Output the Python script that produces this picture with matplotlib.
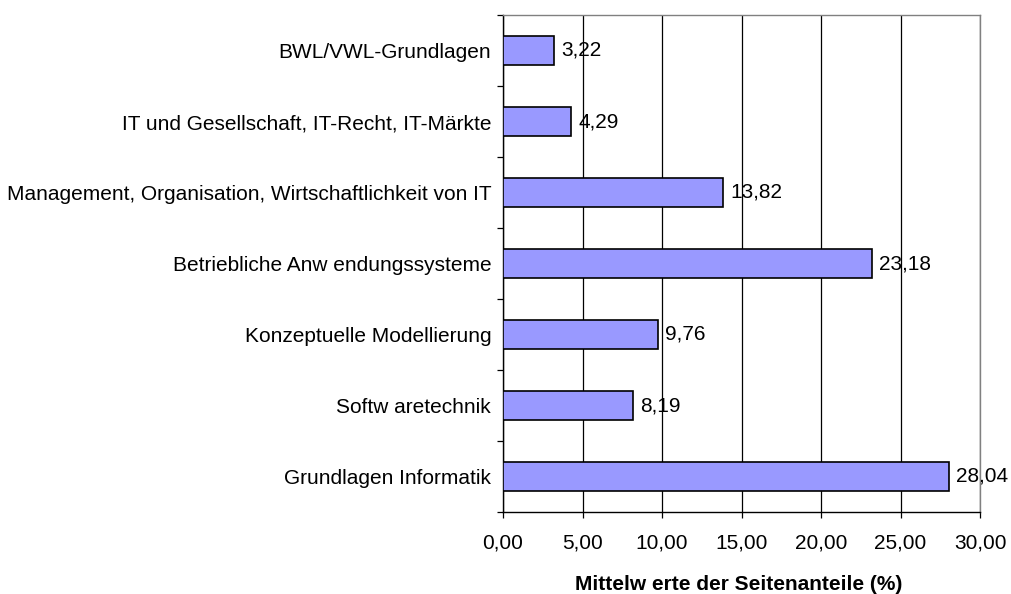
import matplotlib
matplotlib.use("Agg")
import matplotlib.pyplot as plt

categories = [
    "BWL/VWL-Grundlagen",
    "IT und Gesellschaft, IT-Recht, IT-Märkte",
    "Management, Organisation, Wirtschaftlichkeit von IT",
    "Betriebliche Anw endungssysteme",
    "Konzeptuelle Modellierung",
    "Softw aretechnik",
    "Grundlagen Informatik",
]
values = [3.22, 4.29, 13.82, 23.18, 9.76, 8.19, 28.04]
xticks = [0, 5, 10, 15, 20, 25, 30]
xlabel = "Mittelw erte der Seitenanteile (%)"

plt.rcParams['font.family'] = ['Liberation Sans', 'DejaVu Sans']
FS = 15

fig = plt.figure(figsize=(10.11, 5.94), dpi=100)
ax = fig.add_axes([503/1011, 1 - 512/594, (980 - 503)/1011, (512 - 15)/594])

n = len(categories)
ypos = list(range(n))
ax.barh(ypos, values, height=0.42, color="#9999FF", edgecolor="black", linewidth=1.2, zorder=3)
ax.set_ylim(n - 0.5, -0.5)
ax.set_xlim(0, 30)

for y, v in zip(ypos, values):
    ax.text(v + 0.45, y, f"{v:.2f}".replace(".", ","), va="center", ha="left", fontsize=FS, zorder=4)

ax.set_xticks(xticks)
ax.set_xticklabels([f"{t:.2f}".replace(".", ",") for t in xticks], fontsize=FS)
ax.xaxis.grid(True, color="black", linewidth=0.9, zorder=0)
ax.set_axisbelow(True)

ax.set_yticks([i - 0.5 for i in range(n + 1)])
ax.set_yticklabels([])
ax.set_yticks(ypos, minor=True)
ax.set_yticklabels(categories, minor=True, fontsize=FS)
ax.tick_params(axis="y", which="minor", length=0, pad=8.5)
ax.tick_params(axis="y", which="major", length=4.5, direction="out", width=0.9)
ax.tick_params(axis="x", length=4.5, direction="out", width=0.9, pad=11)

for s in ["top", "right"]:
    ax.spines[s].set_color("#808080")
    ax.spines[s].set_linewidth(1)
for s in ["left", "bottom"]:
    ax.spines[s].set_color("black")
    ax.spines[s].set_linewidth(1)

fig.text(739/1011, 1 - 590/594, xlabel, ha="center", va="baseline", fontsize=FS,
         fontweight="bold", fontstretch="expanded")

fig.savefig("out.png", dpi=100)
